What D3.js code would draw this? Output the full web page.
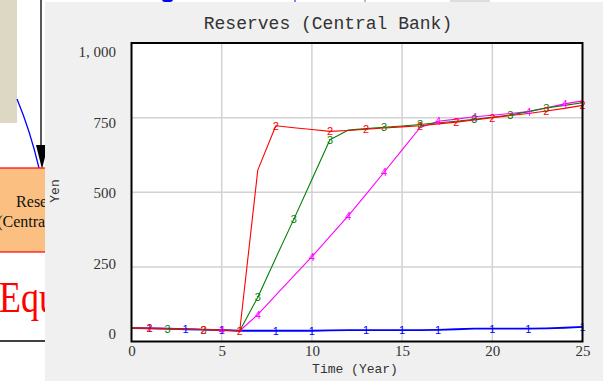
<!DOCTYPE html>
<html>
<head>
<meta charset="utf-8">
<script src="https://cdn.jsdelivr.net/npm/d3@7"></script>
<style>
  html, body { margin: 0; padding: 0; background: #ffffff; }
  svg { display: block; }
</style>
</head>
<body>
<svg id="chart" width="603" height="381"></svg>
<script>
// Simulation output: Reserves (Central Bank), yen, by year
const years = d3.range(0, 26);
const run1 = [45, 44, 43, 41, 40, 38, 36, 36, 36, 36, 36, 37, 38, 38, 38, 38, 38, 39, 41, 43, 43, 43, 43, 44, 46, 49];
const run2 = [45, 44, 43, 41, 40, 38, 36, 574, 723, 716, 710, 704, 707, 711, 715, 719, 723, 729, 735, 742, 750, 757, 764, 772, 781, 791];
const run3 = [45, 44, 43, 41, 40, 38, 36, 148, 280, 410, 543, 676, 708, 713, 718, 722, 727, 733, 738, 744, 751, 759, 770, 782, 791, 800];
const run4 = [45, 44, 43, 41, 40, 38, 36, 90, 155, 220, 284, 352, 420, 493, 567, 642, 717, 738, 745, 753, 758, 764, 770, 783, 796, 806];

// years at which each run carries its numeric tag
const tags1 = [1, 3, 5, 8, 10, 13, 15, 17, 20, 22, 25];
const tags2 = [1, 4, 6, 8, 11, 13, 16, 18, 20, 23, 25];
const tags3 = [2, 4, 7, 9, 11, 14, 16, 19, 21, 23];
const tags4 = [5, 7, 10, 12, 14, 17, 19, 22, 24];

const yTicks = [0, 250, 500, 750, 1000];
const xTicks = [0, 5, 10, 15, 20, 25];

const series = [
  { id: "1", values: run1, tags: tags1, color: "#0000ff", width: 1.8 },
  { id: "4", values: run4, tags: tags4, color: "#ff00ff", width: 1.1 },
  { id: "3", values: run3, tags: tags3, color: "#008000", width: 1.1 },
  { id: "2", values: run2, tags: tags2, color: "#ff0000", width: 1.1 }
];

const svg = d3.select("#chart");

// ---- model diagram sitting behind the graph window ----
const back = svg.append("g");
back.append("rect").attr("x", 0).attr("y", 0).attr("width", 17).attr("height", 123).attr("fill", "#ddd8c4");
back.append("line").attr("x1", 41).attr("x2", 41).attr("y1", 0).attr("y2", 146)
  .attr("stroke", "#222").attr("stroke-width", 1.5);
back.append("path").attr("d", "M17,99 Q30,130 39,168").attr("fill", "none")
  .attr("stroke", "#0000ff").attr("stroke-width", 1.3);
back.append("path").attr("d", "M36,145 L48,145 L42,169 Z").attr("fill", "#000");
back.append("rect").attr("x", -2).attr("y", 168).attr("width", 60).attr("height", 84)
  .attr("fill", "#fbbf82").attr("stroke", "#ff0000").attr("stroke-width", 1.2);
back.append("text").attr("x", 45).attr("y", 207).attr("text-anchor", "middle")
  .attr("font-family", "Liberation Serif, serif").attr("font-size", 16).attr("fill", "#111")
  .text("Reserves");
back.append("text").attr("x", 45).attr("y", 227).attr("text-anchor", "middle")
  .attr("font-family", "Liberation Serif, serif").attr("font-size", 16).attr("fill", "#111")
  .text("(Central Bank)");
back.append("text").attr("transform", "translate(-1,312) scale(0.8,1)")
  .attr("font-family", "Liberation Serif, serif").attr("font-size", 45).attr("fill", "#ff0000")
  .text("Equilibrium");
back.append("line").attr("x1", 0).attr("x2", 50).attr("y1", 341).attr("y2", 341)
  .attr("stroke", "#000").attr("stroke-width", 1.5);
// fragments along the top edge
back.append("rect").attr("x", 162).attr("y", -3).attr("width", 11).attr("height", 5).attr("rx", 3).attr("fill", "#0000ff");
back.append("line").attr("x1", 295).attr("x2", 295).attr("y1", 0).attr("y2", 2).attr("stroke", "#0000ff");
back.append("rect").attr("x", 364).attr("y", 0).attr("width", 2).attr("height", 2).attr("fill", "#bbb");
back.append("rect").attr("x", 450).attr("y", 0).attr("width", 40).attr("height", 2).attr("fill", "#ddd");

// ---- graph window ----
svg.append("rect").attr("x", 45).attr("y", 2).attr("width", 560).attr("height", 381).attr("fill", "#f0f0f0");

const plot = { left: 131.5, right: 582.5, top: 43, bottom: 341.5 };

const x = d3.scaleLinear().domain([0, 25]).range([plot.left, plot.right]);
const y = d3.scaleLinear().domain([0, 1000]).range([plot.bottom, plot.top]);
// value labels sit on a slightly tighter ladder than the grid
const yLabel = d3.scaleLinear().domain([0, 1000]).range([334, 52]);

svg.append("rect").attr("x", plot.left).attr("y", plot.top)
  .attr("width", plot.right - plot.left).attr("height", plot.bottom - plot.top).attr("fill", "#fff");

// grid
const grid = svg.append("g").attr("stroke", "#d2d2d2").attr("stroke-width", 1.5);
grid.selectAll("line.v").data(xTicks.slice(1, -1)).join("line").attr("class", "v")
  .attr("x1", d => x(d)).attr("x2", d => x(d)).attr("y1", plot.top).attr("y2", plot.bottom);
grid.selectAll("line.h").data(yTicks.slice(1, -1)).join("line").attr("class", "h")
  .attr("x1", plot.left).attr("x2", plot.right).attr("y1", d => y(d)).attr("y2", d => y(d));

// lines
const line = d3.line().x((d, i) => x(years[i])).y(d => y(d));
const lines = svg.append("g");
series.forEach(s => {
  lines.append("path").datum(s.values).attr("d", line).attr("fill", "none")
    .attr("stroke", s.color).attr("stroke-width", s.width).attr("stroke-linejoin", "round");
});
series.forEach(s => {
  lines.append("g").selectAll("text").data(s.tags).join("text")
    .attr("x", d => x(d)).attr("y", d => y(s.values[d]))
    .attr("dy", "0.36em").attr("text-anchor", "middle")
    .attr("font-family", "Liberation Sans, sans-serif").attr("font-size", 11)
    .attr("fill", s.color).text(s.id);
});

// frame
svg.append("rect").attr("x", plot.left).attr("y", plot.top)
  .attr("width", plot.right - plot.left).attr("height", plot.bottom - plot.top)
  .attr("fill", "none").attr("stroke", "#000").attr("stroke-width", 2);

// axes
const yAxis = svg.append("g").attr("transform", "translate(116,0)")
  .call(d3.axisLeft(yLabel).tickValues(yTicks).tickSize(0).tickPadding(0)
    .tickFormat(d => d3.format(",")(d).replace(",", ", ")));
yAxis.select(".domain").remove();
yAxis.selectAll("text").attr("font-family", "Liberation Serif, serif").attr("font-size", 15).attr("fill", "#333");

const xAxis = svg.append("g").attr("transform", `translate(0,${plot.bottom})`)
  .call(d3.axisBottom(x).tickValues(xTicks).tickSize(0).tickPadding(4));
xAxis.select(".domain").remove();
xAxis.selectAll("text").attr("font-family", "Liberation Serif, serif").attr("font-size", 15).attr("fill", "#333");

// titles
svg.append("text").attr("x", 328).attr("y", 29).attr("text-anchor", "middle")
  .attr("font-family", "Liberation Mono, monospace").attr("font-size", 18).attr("fill", "#333")
  .text("Reserves (Central Bank)");
svg.append("text").attr("x", 355).attr("y", 373).attr("text-anchor", "middle")
  .attr("font-family", "Liberation Mono, monospace").attr("font-size", 13).attr("fill", "#333")
  .text("Time (Year)");
svg.append("text").attr("transform", "translate(59,191) rotate(-90)").attr("text-anchor", "middle")
  .attr("font-family", "Liberation Mono, monospace").attr("font-size", 13).attr("fill", "#333")
  .text("Yen");
</script>
</body>
</html>
